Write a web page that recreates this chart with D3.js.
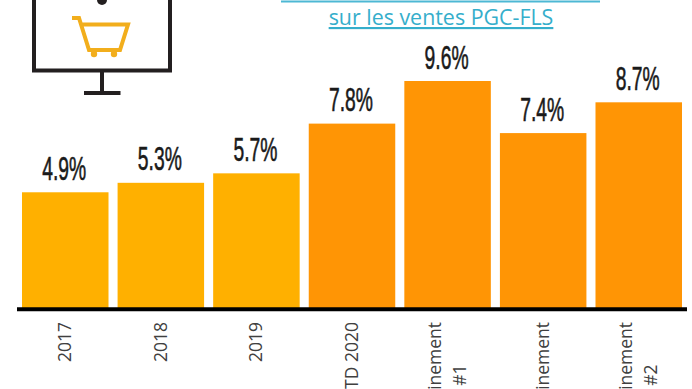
<!DOCTYPE html>
<html>
<head>
<meta charset="utf-8">
<script src="https://cdnjs.cloudflare.com/ajax/libs/d3/7.8.5/d3.min.js"></script>
<style>
  html, body { margin: 0; padding: 0; background: #fff; overflow: hidden; }
  svg { display: block; }
</style>
</head>
<body>
<div id="chart"></div>
<script>
const categories = ["2017", "2018", "2019", "YTD 2020", "Confinement\n#1", "Déconfinement", "Confinement\n#2"];
const values = [4.9, 5.3, 5.7, 7.8, 9.6, 7.4, 8.7];
const periods = ["avant", "avant", "avant", "2020", "2020", "2020", "2020"];
const subtitle = "sur les ventes PGC-FLS";

const width = 692, height = 389;
const baseline = 308.3, axisY = 309.3;

const svg = d3.select("#chart").append("svg")
    .attr("width", width)
    .attr("height", height);

const x = d3.scaleBand()
    .domain(categories)
    .range([22, 682])
    .paddingInner(0.095);

const y = d3.scaleLinear()
    .domain([0, 9.6])
    .range([baseline, 81]);

const color = d3.scaleOrdinal()
    .domain(["avant", "2020"])
    .range(["#ffb000", "#ff9505"]);

// bars
svg.selectAll(".bar")
    .data(categories)
    .enter()
    .append("rect")
    .attr("class", "bar")
    .attr("x", d => x(d))
    .attr("y", (d, i) => y(values[i]))
    .attr("width", x.bandwidth())
    .attr("height", (d, i) => baseline - y(values[i]))
    .attr("fill", (d, i) => color(periods[i]));

// value labels, squeezed to look like the condensed face of the original
svg.selectAll(".label")
    .data(categories)
    .enter()
    .append("text")
    .attr("class", "label")
    .attr("transform", (d, i) => `translate(${x(d) + x.bandwidth() / 2 - 1},${y(values[i]) - 12.5}) scale(0.585,1)`)
    .attr("text-anchor", "middle")
    .style("font-family", "'Liberation Sans Narrow', 'Liberation Sans', sans-serif")
    .style("font-size", "33px")
    .style("fill", "#1a1a1a")
    .style("stroke", "#1a1a1a")
    .style("stroke-width", "0.6px")
    .text((d, i) => `${values[i].toFixed(1)}%`);

// x axis
const axis = svg.append("g")
    .attr("transform", `translate(0,${axisY})`)
    .call(d3.axisBottom(x).tickSize(0).tickFormat(""));

axis.select(".domain").remove();
axis.selectAll(".tick text").remove();

axis.append("line")
    .attr("x1", 17)
    .attr("x2", 687)
    .attr("stroke", "#000")
    .attr("stroke-width", 4);

// rotated tick labels, clipped by the bottom of the picture like the original
axis.selectAll(".tick").each(function(d) {
    const lines = d.split("\n");
    const tick = d3.select(this);
    const lineGap = 24.5;
    const top = 12.7;
    let longest = 0;
    const texts = lines.map((line, i) => {
        const t = tick.append("text")
            .attr("text-anchor", "middle")
            .style("font-family", "'Open Sans', sans-serif")
            .style("font-size", "17.5px")
            .style("fill", "#404040")
            .text(line);
        longest = Math.max(longest, t.node().getComputedTextLength());
        return t;
    });
    texts.forEach((t, i) => {
        const off = (i - (lines.length - 1) / 2) * lineGap + 6;
        t.attr("transform", `translate(${off},${top + longest / 2}) rotate(-90)`);
    });
});

// subtitle and the underline of the cropped line above it
svg.append("line")
    .attr("x1", 281)
    .attr("x2", 600)
    .attr("y1", 1.5)
    .attr("y2", 1.5)
    .attr("stroke", "#4db8d4")
    .attr("stroke-width", 2);

svg.append("text")
    .attr("x", 441)
    .attr("y", 25)
    .attr("text-anchor", "middle")
    .style("font-family", "'Open Sans', sans-serif")
    .style("font-size", "21.4px")
    .style("fill", "#35aecb")
    .style("text-decoration", "underline")
    .text(subtitle);

// monitor icon
const icon = svg.append("g");

icon.append("path")
    .attr("d", "M34 0V70.5H170V0")
    .attr("fill", "none")
    .attr("stroke", "#231f20")
    .attr("stroke-width", 4);

icon.append("path")
    .attr("d", "M102 72V92M84 93H120.5")
    .attr("fill", "none")
    .attr("stroke", "#231f20")
    .attr("stroke-width", 4);

icon.append("circle")
    .attr("cx", 102)
    .attr("cy", 0)
    .attr("r", 5)
    .attr("fill", "#231f20");

// cart
icon.append("path")
    .attr("d", "M72 18H79L89 50H120L128 24.5H82")
    .attr("fill", "none")
    .attr("stroke", "#f2ae1c")
    .attr("stroke-width", 4);

icon.selectAll(".wheel")
    .data([94, 114])
    .enter()
    .append("circle")
    .attr("class", "wheel")
    .attr("cx", d => d)
    .attr("cy", 54)
    .attr("r", 3.2)
    .attr("fill", "#f2ae1c");
</script>
</body>
</html>
